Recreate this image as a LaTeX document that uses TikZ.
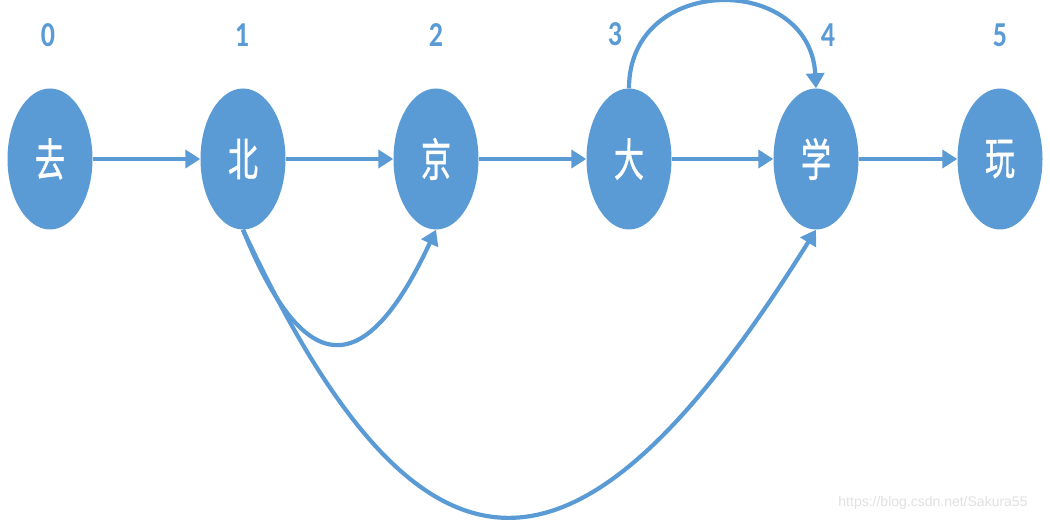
\documentclass[tikz,border=0pt]{standalone}
\usepackage{fontspec}
\newfontfamily\cjkfont{Noto Sans CJK SC}[FakeBold=1.2]
\newfontfamily\numfont{Carlito}
\newfontfamily\markfont{Liberation Sans}
\usetikzlibrary{shapes.geometric,arrows.meta}
\definecolor{wordblue}{HTML}{5B9BD5}
\newcommand{\hanzi}[1]{\scalebox{1}[1.5]{\cjkfont #1}}
\newcommand{\numtext}[1]{\scalebox{1}[1.25]{\numfont\bfseries #1}}
\tikzset{
  wordnode/.style={ellipse, fill=wordblue, text=white, minimum width=85pt, minimum height=141pt, inner sep=0pt, font=\fontsize{30}{30}\selectfont},
  numlabel/.style={text=wordblue, font=\fontsize{28}{28}\selectfont},
  link/.style={line width=4.2pt, draw=wordblue, -{Triangle[length=15pt,width=18pt]}}
}
\begin{document}
\begin{tikzpicture}[x=1pt,y=1pt]
    \useasboundingbox (0,0) rectangle (1050,523);
    % Words
    \node[wordnode] (w0) at (50,364) {\hanzi{去}};
    \node[wordnode] (w1) at (243,364) {\hanzi{北}};
    \node[wordnode] (w2) at (436,364) {\hanzi{京}};
    \node[wordnode] (w3) at (629,364) {\hanzi{大}};
    \node[wordnode] (w4) at (816,364) {\hanzi{学}};
    \node[wordnode] (w5) at (1000,364) {\hanzi{玩}};
    % Positions
    \node[numlabel] (p0) at (48,488) {\numtext{0}};
    \node[numlabel] (p1) at (242,488) {\numtext{1}};
    \node[numlabel] (p2) at (436,488) {\numtext{2}};
    \node[numlabel] (p3) at (615,489) {\numtext{3}};
    \node[numlabel] (p4) at (828,488) {\numtext{4}};
    \node[numlabel] (p5) at (1000,488) {\numtext{5}};
    % Straight links
    \draw[link] (w0) -- (w1);
    \draw[link] (w1) -- (w2);
    \draw[link] (w2) -- (w3);
    \draw[link] (w3) -- (w4);
    \draw[link] (w4) -- (w5);
    % Curved links
    \draw[link] (w3.north) .. controls (629,550) and (810,550) .. (w4.north); % 大 -> 学
    \draw[link] (w1.south) to[out=-68,in=-115,looseness=2.2] (w2.south); % 北 -> 京
    \draw[link] (w1.south) to[out=-65,in=-122,looseness=1.95] (w4.south); % 北 -> 学
    % Watermark
    \node[text=black!12, font=\markfont\fontsize{14}{14}\selectfont] (mark) at (933,20) {https://blog.csdn.net/Sakura55};
\end{tikzpicture}
\end{document}
